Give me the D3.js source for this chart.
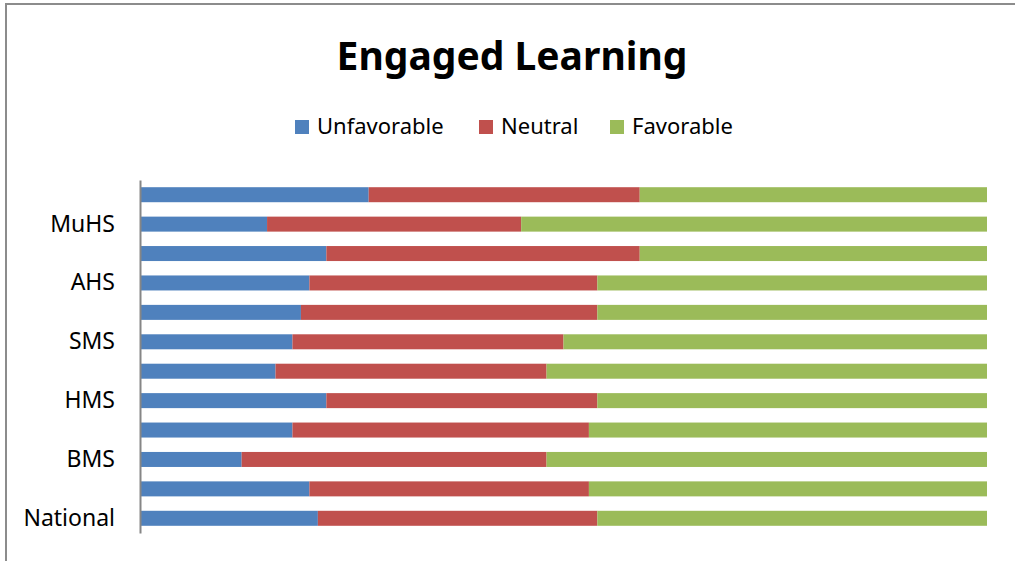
<meta charset="utf-8">
<script src="https://d3js.org/d3.v7.min.js"></script>
<style>
    body { margin: 0; background: #fff; }
    svg { font-family: "Noto Sans", "Open Sans", sans-serif; }
</style>
<svg width="1015" height="561"></svg>
<script>
    // rows from bottom to top, only every other row carries a label
    var labels = ["National", "", "BMS", "", "HMS", "", "SMS", "", "AHS", "", "MuHS", ""];
    var unfavorable = [21, 20, 12, 18, 22, 16, 18, 19, 20, 22, 15, 27];
    var neutral = [33, 33, 36, 35, 32, 32, 32, 35, 34, 37, 30, 32];
    var favorable = [46, 47, 52, 47, 46, 52, 50, 46, 46, 41, 55, 41];
    var seriesNames = ["Unfavorable", "Neutral", "Favorable"];
    var colors = ["#4F81BD", "#C0504D", "#9BBB59"];

    var svg = d3.select("svg");

    // chart frame
    svg.append("path")
        .attr("d", "M6,561 V4 H1015")
        .attr("fill", "none")
        .attr("stroke", "#8c8c8c")
        .attr("stroke-width", 2);

    svg.append("text")
        .attr("x", 512)
        .attr("y", 70)
        .attr("text-anchor", "middle")
        .attr("font-weight", "bold")
        .attr("font-size", "39px")
        .attr("fill", "#000")
        .text("Engaged Learning");

    var rows = labels.map(function(l, i) {
        return {idx: i, Unfavorable: unfavorable[i], Neutral: neutral[i], Favorable: favorable[i]};
    });

    var x = d3.scaleLinear().domain([0, 100]).range([140, 987]);
    var y = d3.scaleBand()
        .domain(d3.range(labels.length))
        .range([533, 180])
        .paddingInner(0.49)
        .paddingOuter(0.245);

    var color = d3.scaleOrdinal().domain(seriesNames).range(colors);

    var stacked = d3.stack().keys(seriesNames)(rows);

    svg.append("g")
        .selectAll("g")
        .data(stacked)
        .enter().append("g")
        .attr("fill", function(d) { return color(d.key); })
        .selectAll("rect")
        .data(function(d) { return d; })
        .enter().append("rect")
        .attr("x", function(d) { return x(d[0]); })
        .attr("width", function(d) { return x(d[1]) - x(d[0]); })
        .attr("y", function(d) { return y(d.data.idx); })
        .attr("height", y.bandwidth());

    var yAxis = svg.append("g")
        .attr("transform", "translate(140,0)")
        .call(d3.axisLeft(y)
            .tickSize(0)
            .tickPadding(25)
            .tickFormat(function(i) { return labels[i]; }));
    yAxis.select(".domain").attr("stroke", "#868686").attr("stroke-width", 2);
    yAxis.selectAll("text")
        .attr("font-family", "Noto Sans")
        .attr("font-size", "23px")
        .attr("fill", "#000");

    // legend
    var legendX = [295, 479, 610];
    var legend = svg.append("g").selectAll("g")
        .data(seriesNames)
        .enter().append("g")
        .attr("transform", function(d, i) { return "translate(" + legendX[i] + ",120)"; });
    legend.append("rect")
        .attr("width", 14)
        .attr("height", 14)
        .attr("fill", function(d) { return color(d); });
    legend.append("text")
        .attr("x", 22)
        .attr("y", 13.5)
        .attr("font-size", "22px")
        .attr("fill", "#000")
        .text(function(d) { return d; });
</script>
